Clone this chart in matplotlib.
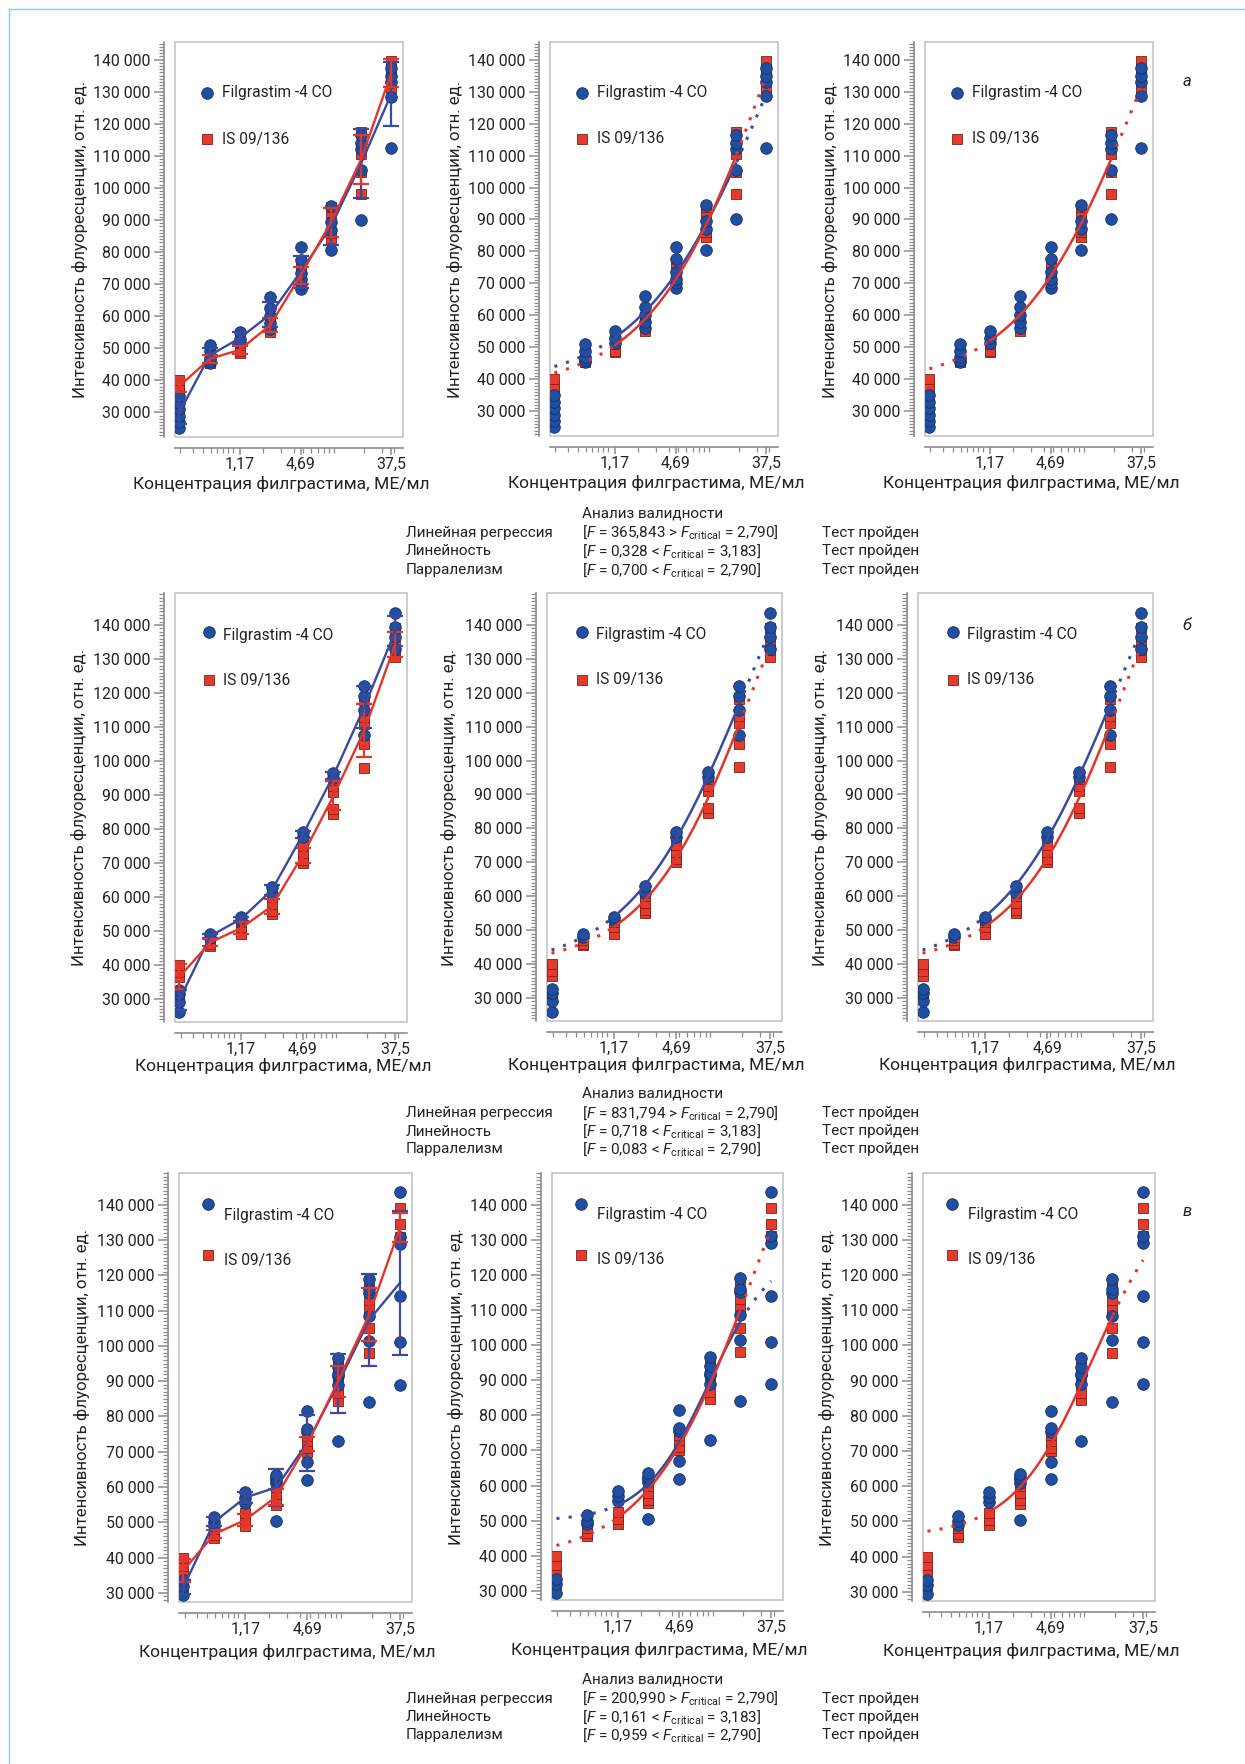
import numpy as np
import matplotlib
matplotlib.use('Agg')
import matplotlib.pyplot as plt
from matplotlib.ticker import FixedLocator, FixedFormatter, MultipleLocator, LogLocator, FuncFormatter, NullFormatter
from matplotlib.patches import Rectangle
from matplotlib.lines import Line2D

plt.rcParams['font.family'] = ['Roboto', 'DejaVu Sans']
plt.rcParams['mathtext.fontset'] = 'custom'
plt.rcParams['mathtext.rm'] = 'Roboto'
plt.rcParams['mathtext.it'] = 'Roboto:italic'

# concentrations, ME/ml
conc = [0.293, 0.586, 1.17, 2.34, 4.69, 9.375, 18.75, 37.5]
xtick_vals = [1.17, 4.69, 37.5]
xtick_labels = ['1,17', '4,69', '37,5']

# replicate readings per concentration level (row a)
a_blue = [[25000, 27000, 29000, 31000, 33000, 35000],
          [45500, 46000, 47000, 49000, 51000],
          [51500, 53000, 55000],
          [56000, 58000, 60000, 62500, 66000],
          [68500, 70000, 71500, 73500, 77500, 81500],
          [80500, 87000, 89500, 94500],
          [90000, 105500, 112000, 114000, 116500],
          [112500, 128500, 133000, 135000, 137500]]
a_red = [[36500, 38000, 40000],
         [45500, 46500, 48000],
         [48500, 49000, 51000],
         [55000, 57000, 59500],
         [70000, 73000, 75000],
         [84500, 86000, 92000, 94000],
         [98000, 105000, 110500, 113000, 117500],
         [131000, 137000, 139500]]

# row b
b_blue = [[26000, 29000, 31500, 32500],
          [48000, 49000],
          [53000, 54000],
          [61000, 63000],
          [77500, 79000],
          [95000, 96500],
          [107500, 115000, 119000, 122000],
          [133000, 136500, 139500, 143500]]
b_red = [[31500, 36500, 38000, 40000],
         [45500, 46000, 47000, 48000],
         [49000, 51000, 52500],
         [55000, 56000, 58000, 60000],
         [70000, 71000, 73000, 75000],
         [84500, 86000, 91000, 92500, 94500],
         [98000, 105000, 111000, 113000, 118000],
         [130500, 132500, 135000, 139000]]

# row c
c_blue = [[29500, 32000, 33500],
          [49000, 50000, 51500],
          [55500, 57000, 58500],
          [50500, 61000, 62000, 62500, 63500],
          [62000, 67000, 75500, 76500, 81500],
          [73000, 89000, 91500, 92000, 94000, 96500],
          [84000, 101500, 108500, 115000, 116000, 119000],
          [89000, 101000, 114000, 129000, 131000, 143500]]
c_red = [[32000, 36000, 37500, 40000],
         [45500, 46500, 48000],
         [49000, 50500, 52500],
         [55000, 56000, 58000, 60000],
         [70000, 71000, 73000, 74500],
         [84500, 86500, 91000, 93000, 95000],
         [98000, 105000, 110500, 113000, 117500],
         [130000, 131000, 134500, 139000]]

stat_names = ['Линейная регрессия', 'Линейность', 'Парралелизм']
stat_ops = ['>', '<', '<']
stat_crit = ['2,790', '3,183', '2,790']
a_F = ['365,843', '0,328', '0,700']
b_F = ['831,794', '0,718', '0,083']
c_F = ['200,990', '0,161', '0,959']

BLUE = '#1f4f9e'
BLUE_EDGE = '#18306e'
BLUE_LINE = '#3a4aa0'
RED = '#e63a2c'
RED_EDGE = '#7a2418'
RED_LINE = '#e2352b'
GRAY = '#8c8c8c'
TXT = '#222222'

W, H = 1245, 1764
fig = plt.figure(figsize=(W / 100, H / 100), dpi=100)


def box(x0, y0, x1, y1):
    return [x0 / W, 1 - y1 / H, (x1 - x0) / W, (y1 - y0) / H]


def scatter_data(ax, blue, red):
    for i, vals in enumerate(red):
        ax.scatter([conc[i]] * len(vals), vals, marker='s', s=62, color=RED,
                   edgecolor=RED_EDGE, linewidth=0.6, zorder=3)
    for i, vals in enumerate(blue):
        ax.scatter([conc[i]] * len(vals), vals, marker='o', s=70, color=BLUE,
                   edgecolor=BLUE_EDGE, linewidth=0.6, zorder=4)


def mean_line(ax, data, color):
    means = [np.mean(v) for v in data]
    sds = [np.std(v, ddof=1) for v in data]
    ax.errorbar(conc, means, yerr=sds, color=color, lw=1.7, elinewidth=1.6,
                capsize=6, capthick=1.6, zorder=5)


def fit_4pl(xp, yp):
    # 4-parameter logistic, grid over slope/midpoint, A and D by least squares
    xp = np.asarray(xp, float)
    yp = np.asarray(yp, float)
    Bs = np.linspace(0.3, 6, 120)[:, None, None]
    Cs = (10 ** np.linspace(-1, 4, 220))[None, :, None]
    g = 1 / (1 + (xp[None, None, :] / Cs) ** Bs)
    u, v = g, 1 - g
    suu, svv, suv = (u * u).sum(-1), (v * v).sum(-1), (u * v).sum(-1)
    suy, svy = (u * yp).sum(-1), (v * yp).sum(-1)
    det = suu * svv - suv ** 2
    ok = det > 1e-9
    det = np.where(ok, det, 1)
    A = (suy * svv - svy * suv) / det
    D = (svy * suu - suy * suv) / det
    sse = ((yp - A[..., None] * u - D[..., None] * v) ** 2).sum(-1)
    sse = np.where(ok, sse, np.inf)
    i, j = np.unravel_index(np.argmin(sse), sse.shape)
    return A[i, j], D[i, j], Bs[i, 0, 0], Cs[0, j, 0]


def fit_line(ax, data, color):
    xp, yp = [], []
    for i in range(1, 8):
        xp += [conc[i]] * len(data[i])
        yp += list(data[i])
    A, D, B, C = fit_4pl(xp, yp)
    t = np.log2(conc)
    tt = np.linspace(t[0], t[7], 300)
    xx = 2 ** tt
    yy = D + (A - D) / (1 + (xx / C) ** B)
    mid = (tt >= t[2]) & (tt <= t[6])
    lo = tt <= t[2]
    hi = tt >= t[6]
    ax.plot(xx[mid], yy[mid], color=color, lw=1.8, zorder=5)
    ax.plot(xx[lo], yy[lo], color=color, lw=2.2, ls=(0, (1, 3)), zorder=5)
    ax.plot(xx[hi], yy[hi], color=color, lw=2.2, ls=(0, (1, 3)), zorder=5)


def style_axes(ax, ylim, wpx, hpx, xl_off):
    ax.set_xscale('log')
    ax.set_xlim(0.265, 49)
    ax.set_ylim(*ylim)
    for s in ['top', 'right']:
        ax.spines[s].set_visible(False)
    for s in ['left', 'bottom']:
        ax.spines[s].set_position(('outward', 8))
        ax.spines[s].set_color(GRAY)
        ax.spines[s].set_linewidth(1.2)
    ax.add_patch(Rectangle((0, 0), 1, 1, transform=ax.transAxes, fill=False,
                           edgecolor='#c4c4c4', lw=1.2, clip_on=False, zorder=1))
    ax.yaxis.set_major_locator(FixedLocator(list(range(30000, 140001, 10000))))
    ax.yaxis.set_minor_locator(MultipleLocator(1000))
    ax.yaxis.set_major_formatter(FuncFormatter(lambda v, p: f'{int(v):,}'.replace(',', ' ')))
    ax.xaxis.set_major_locator(FixedLocator(xtick_vals))
    ax.xaxis.set_major_formatter(FixedFormatter(xtick_labels))
    ax.xaxis.set_minor_locator(LogLocator(base=10, subs=np.arange(1, 10), numticks=30))
    ax.xaxis.set_minor_formatter(NullFormatter())
    ax.tick_params(axis='both', which='major', length=7, width=1.1, color=GRAY,
                   labelsize=11.4, labelcolor=TXT)
    ax.tick_params(axis='both', which='minor', length=3.5, width=0.9, color=GRAY)
    ax.tick_params(axis='y', which='major', pad=2.5)
    ax.tick_params(axis='x', which='major', length=5, pad=1)
    ax.set_ylabel('Интенсивность флуоресценции, отн. ед.', fontsize=12.2, color=TXT)
    ax.set_xlabel('Концентрация филграстима, МЕ/мл', fontsize=12.6, color=TXT)
    ax.yaxis.set_label_coords(-0.415, 0.5)
    ax.xaxis.set_label_coords(0.5 - 8 / wpx, -xl_off / hpx)
    ax.xaxis.label.set_va('center')
    ax.yaxis.label.set_va('center')


def legend(ax, pos):
    mx, by, ty, ry, rty, tx = pos
    ax.scatter([mx], [by], marker='o', s=70, color=BLUE, edgecolor=BLUE_EDGE,
               linewidth=0.6, transform=ax.transAxes, clip_on=False, zorder=6)
    ax.scatter([mx], [ry], marker='s', s=62, color=RED, edgecolor=RED_EDGE,
               linewidth=0.6, transform=ax.transAxes, clip_on=False, zorder=6)
    ax.text(tx, ty, 'Filgrastim -4 CO', transform=ax.transAxes, fontsize=11.2,
            va='center', ha='left', color=TXT)
    ax.text(tx, rty, 'IS 09/136', transform=ax.transAxes, fontsize=11.2,
            va='center', ha='left', color=TXT)


rows = [
    dict(blue=a_blue, red=a_red, ylim=(22300, 145500), both3=False, xl_off=47,
         boxes=[(175, 42, 403, 437), (550, 42, 778, 436), (925, 42, 1153, 436)],
         leg=(0.14, 0.871, 0.871, 0.754, 0.754, 0.206)),
    dict(blue=b_blue, red=b_red, ylim=(23200, 149400), both3=True, xl_off=44,
         boxes=[(175, 593, 407, 1022), (547, 593, 782, 1021), (918, 593, 1153, 1021)],
         leg=(0.147, 0.91, 0.902, 0.797, 0.797, 0.207)),
    dict(blue=c_blue, red=c_red, ylim=(27400, 149000), both3=False, xl_off=50,
         boxes=[(179, 1173, 412, 1602), (552, 1173, 783, 1600), (923, 1173, 1155, 1601)],
         leg=(0.125, 0.928, 0.902, 0.809, 0.797, 0.195)),
]

for r in rows:
    for k, b in enumerate(r['boxes']):
        ax = fig.add_axes(box(*b))
        style_axes(ax, r['ylim'], b[2] - b[0], b[3] - b[1], r['xl_off'])
        scatter_data(ax, r['blue'], r['red'])
        if k == 0:
            mean_line(ax, r['blue'], BLUE_LINE)
            mean_line(ax, r['red'], RED_LINE)
        elif k == 1 or r['both3']:
            fit_line(ax, r['blue'], BLUE_LINE)
            fit_line(ax, r['red'], RED_LINE)
        else:
            comb = [r['blue'][i] + r['red'][i] for i in range(8)]
            fit_line(ax, comb, RED_LINE)
        legend(ax, r['leg'])

# validity analysis text blocks
for y0, offs, Fs in [(514, [18.5, 37, 56], a_F), (1094, [19, 37.5, 55.5], b_F),
                     (1679, [19.5, 38, 56], c_F)]:
    fig.text(582 / W, 1 - y0 / H, 'Анализ валидности', fontsize=11,
             va='center', ha='left', color=TXT)
    for j, off in enumerate(offs):
        yy = 1 - (y0 + off) / H
        fig.text(406 / W, yy, stat_names[j], fontsize=11, va='center', ha='left', color=TXT)
        fig.text(582 / W, yy, '[$F$ = ' + Fs[j] + ' ' + stat_ops[j] +
                 r' $F_{\mathrm{critical}}$ = ' + stat_crit[j] + ']',
                 fontsize=11, va='center', ha='left', color=TXT)
        fig.text(822 / W, yy, 'Тест пройден', fontsize=11, va='center', ha='left', color=TXT)

for lab, y in [('а', 81), ('б', 625), ('в', 1211)]:
    fig.text(1187 / W, 1 - y / H, lab, fontsize=12, style='italic',
             va='center', ha='center', color=TXT)

# page frame lines
fig.add_artist(Line2D([9 / W, 1], [1 - 9 / H, 1 - 9 / H], color='#86cdea', lw=1))
fig.add_artist(Line2D([9 / W, 9 / W], [0, 1 - 9 / H], color='#86cdea', lw=1))

fig.savefig('out.png', dpi=100)
